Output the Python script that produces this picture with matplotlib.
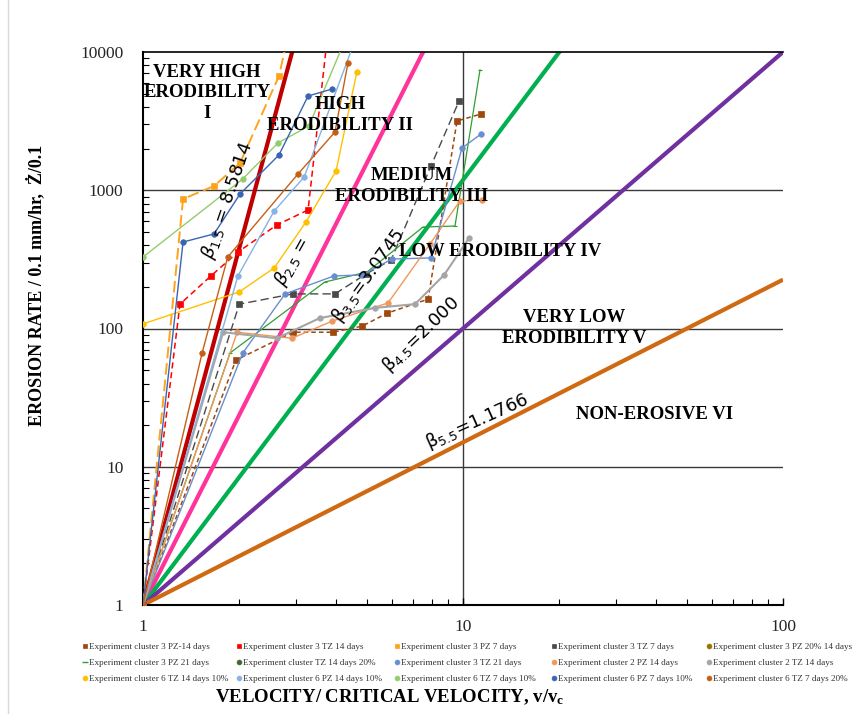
import matplotlib
matplotlib.use("Agg")
import matplotlib.pyplot as plt
import numpy as np
from matplotlib.lines import Line2D
from matplotlib.ticker import FixedLocator, NullFormatter, FixedFormatter

plt.rcParams['mathtext.fontset'] = 'custom'
plt.rcParams['mathtext.rm'] = 'Liberation Serif'
plt.rcParams['mathtext.it'] = 'Liberation Serif:italic'
plt.rcParams['mathtext.bf'] = 'Liberation Serif:bold'

# ---------------- erodibility boundary exponents (E = v^beta) ----------------
beta_values = [8.5814, 4.57, 3.0745, 2.000, 1.1766]
beta_colors = ['#C00000', '#FF3399', '#00B050', '#7030A0', '#D06A12']
beta_labels = [r'$\beta_{1.5}$ = 8.5814', r'$\beta_{2.5}$ =', r'β$_{3.5}$=3.0745',
               r'β$_{4.5}$=2.000', r'β$_{5.5}$=1.1766']

# ---------------- experiment series: v/vc and erosion rate ----------------
c3_pz14_v = [1, 1.95, 2.94, 3.92, 4.84, 5.79, 7.78, 9.58, 11.38]
c3_pz14_e = [1, 59, 94, 94, 104, 129, 163, 3170, 3560]

c3_tz14_v = [1, 1.305, 1.63, 1.98, 2.62, 3.28, 3.79]
c3_tz14_e = [1, 150, 240, 357, 561, 720, 14400]

c3_pz7_v = [1, 1.334, 1.667, 2.01, 2.66, 2.82]
c3_pz7_e = [1, 865, 1073, 1574, 6700, 12200]

c3_tz7_v = [1, 2.0, 2.94, 3.98, 4.98, 5.96, 7.94, 9.72]
c3_tz7_e = [1, 150, 178, 178, 248, 313, 1497, 4420]

c3_pz20_14_v = [1]
c3_pz20_14_e = [1]

c3_pz21_v = [1, 1.87, 3.7, 5.01, 7.5, 9.44, 11.3]
c3_pz21_e = [1, 66.5, 217, 256, 542, 551, 7410]

c_tz14_20_v = [1]
c_tz14_20_e = [1]

c3_tz21_v = [1, 2.05, 2.78, 3.95, 4.84, 6.0, 7.94, 9.93, 11.38]
c3_tz21_e = [1, 66.5, 178, 240, 244, 318, 324, 2020, 2550]

c2_pz14_v = [1, 1.97, 2.92, 3.90, 5.83, 7.88, 9.78, 11.47]
c2_pz14_e = [1, 94, 85, 113, 153, 408, 836, 850]

c2_tz14_v = [1, 1.78, 2.62, 3.57, 5.31, 7.08, 8.73, 10.44]
c2_tz14_e = [1, 94, 85, 119, 141, 150, 244, 451]

c6_tz14_10_v = [1, 2.0, 2.57, 3.23, 4.01, 4.66]
c6_tz14_10_e = [108, 184, 274, 589, 1377, 7170]

c6_pz14_10_v = [1, 1.98, 2.57, 3.19, 4.6]
c6_pz14_10_e = [1, 240, 708, 1247, 12200]

c6_tz7_10_v = [1, 2.05, 2.64, 3.30, 4.28]
c6_tz7_10_e = [329, 1206, 2198, 2917, 12200]

c6_pz7_10_v = [1, 1.334, 1.667, 2.01, 2.66, 3.28, 3.9]
c6_pz7_10_e = [1, 422, 483, 939, 1799, 4806, 5400]

c6_tz7_20_v = [1, 1.53, 1.84, 3.05, 3.98, 4.37]
c6_tz7_20_e = [1, 66.5, 329, 1311, 2637, 8320]

series = [
    ("Experiment cluster 3 PZ-14 days", c3_pz14_v, c3_pz14_e,
     dict(color='#9E480E', marker='s', ms=4.5, lw=1.1, ls=(0, (3, 2)))),
    ("Experiment cluster 3 TZ 14 days", c3_tz14_v, c3_tz14_e,
     dict(color='#FF0000', marker='s', ms=4.5, lw=1.1, ls=(0, (4, 2.5)))),
    ("Experiment cluster 3 PZ 7 days", c3_pz7_v, c3_pz7_e,
     dict(color='#FFA31A', marker='s', ms=4.5, lw=1.4, ls=(0, (6, 2.5)))),
    ("Experiment cluster 3 TZ 7 days", c3_tz7_v, c3_tz7_e,
     dict(color='#4A4A4A', marker='s', ms=4, lw=1.0, ls=(0, (6, 3)))),
    ("Experiment cluster 3 PZ 20% 14 days", c3_pz20_14_v, c3_pz20_14_e,
     dict(color='#997300', marker='o', ms=3.5, lw=1.0, ls='-')),
    ("Experiment cluster 3 PZ 21 days", c3_pz21_v, c3_pz21_e,
     dict(color='#2EA030', marker='_', ms=3, lw=0.9, ls='-')),
    ("Experiment cluster TZ 14 days 20%", c_tz14_20_v, c_tz14_20_e,
     dict(color='#43682B', marker='o', ms=3.5, lw=1.0, ls='-')),
    ("Experiment cluster 3 TZ 21 days", c3_tz21_v, c3_tz21_e,
     dict(color='#698ED0', marker='o', ms=4, lw=1.0, ls='-')),
    ("Experiment cluster 2 PZ 14 days", c2_pz14_v, c2_pz14_e,
     dict(color='#F1975A', marker='o', ms=4, lw=1.0, ls='-')),
    ("Experiment cluster 2 TZ 14 days", c2_tz14_v, c2_tz14_e,
     dict(color='#A5A5A5', marker='o', ms=4, lw=1.5, ls='-')),
    ("Experiment cluster 6 TZ 14 days 10%", c6_tz14_10_v, c6_tz14_10_e,
     dict(color='#FFC000', marker='o', ms=4, lw=1.0, ls='-')),
    ("Experiment cluster 6 PZ 14 days 10%", c6_pz14_10_v, c6_pz14_10_e,
     dict(color='#84B3E4', marker='o', ms=4, lw=1.0, ls='-')),
    ("Experiment cluster 6 TZ 7 days 10%", c6_tz7_10_v, c6_tz7_10_e,
     dict(color='#92CC6E', marker='o', ms=4, lw=1.0, ls='-')),
    ("Experiment cluster 6 PZ 7 days 10%", c6_pz7_10_v, c6_pz7_10_e,
     dict(color='#3A64B4', marker='o', ms=4, lw=1.0, ls='-')),
    ("Experiment cluster 6 TZ 7 days 20%", c6_tz7_20_v, c6_tz7_20_e,
     dict(color='#C65F15', marker='o', ms=4, lw=1.0, ls='-')),
]

x_ticks = [1, 10, 100]
x_ticklabels = ['1', '10', '100']
y_ticks = [1, 10, 100, 1000, 10000]
y_ticklabels = ['1', '10', '100', '1000', '10000']

W, H = 868, 714
fig = plt.figure(figsize=(W / 100, H / 100), dpi=100)
ax = fig.add_axes([143 / W, 1 - 605 / H, 640 / W, 553 / H])
ax.set_xscale('log')
ax.set_yscale('log')
ax.set_xlim(1, 100)
ax.set_ylim(1, 10000)

# grid lines at the major decades
for yv in [10, 100, 1000]:
    ax.axhline(yv, color='#3A3A3A', lw=1.0, zorder=1)
ax.axvline(10, color='#3A3A3A', lw=1.0, zorder=1)

# boundary lines
v_line = np.array([1.0, 100.0])
for b, c in zip(beta_values, beta_colors):
    ax.plot(v_line, v_line ** b, color=c, lw=3.0, zorder=2.5, solid_capstyle='butt')

# experiment series
for name, v, e, st in series:
    ax.plot(v, e, color=st['color'], marker=st['marker'], ms=st['ms'],
            lw=st['lw'], ls=st['ls'], zorder=3, markeredgewidth=0.8 if st['marker'] == '_' else 0.5)

# spines & ticks
for s in ['left', 'bottom']:
    ax.spines[s].set_linewidth(1.5)
ax.spines['top'].set_linewidth(1.2)
ax.spines['right'].set_visible(False)

ax.xaxis.set_major_locator(FixedLocator(x_ticks))
ax.xaxis.set_major_formatter(FixedFormatter(x_ticklabels))
ax.yaxis.set_major_locator(FixedLocator(y_ticks))
ax.yaxis.set_major_formatter(FixedFormatter(y_ticklabels))
ax.xaxis.set_minor_locator(FixedLocator([m * d for d in (1, 10) for m in range(2, 10)]))
ax.yaxis.set_minor_locator(FixedLocator([m * d for d in (1, 10, 100, 1000) for m in range(2, 10)]))
ax.xaxis.set_minor_formatter(NullFormatter())
ax.yaxis.set_minor_formatter(NullFormatter())
ax.tick_params(which='both', direction='in', top=False, right=False, color='black')
ax.tick_params(which='major', length=5, width=1.0)
ax.tick_params(which='minor', length=4, width=0.8)
ax.tick_params(axis='x', which='major', pad=10)
ax.tick_params(axis='y', which='major', pad=14, length=0)
for lab in ax.get_xticklabels() + ax.get_yticklabels():
    lab.set_fontfamily('Liberation Serif')
    lab.set_fontsize(12.5)
    lab.set_color('#262626')

# boundary labels
beta_pos = [(0.1328, 0.7324, 71), (0.2328, 0.6203, 61), (0.353, 0.595, 54),
            (0.4344, 0.4899, 44), (0.5219, 0.3327, 24)]
for (fx, fy, rot), txt in zip(beta_pos, beta_labels):
    ax.text(fx, fy, txt, transform=ax.transAxes, rotation=rot, rotation_mode='anchor',
            ha='center', va='center', fontsize=13, fontfamily='DejaVu Sans',
            math_fontfamily='dejavusans', color='black', zorder=6)

# erodibility region labels
regions = [
    ("VERY HIGH\nERODIBILITY\nI", 0.10, 0.926),
    ("HIGH\nERODIBILITY II", 0.308, 0.886),
    ("MEDIUM\nERODIBILITY III", 0.42, 0.758),
    ("LOW ERODIBILITY IV", 0.558, 0.640),
    ("VERY LOW\nERODIBILITY V", 0.673, 0.501),
    ("NON-EROSIVE VI", 0.80, 0.344),
]
for txt, fx, fy in regions:
    ax.text(fx, fy, txt, transform=ax.transAxes, ha='center', va='center',
            multialignment='center', fontsize=13.5, fontfamily='Liberation Serif',
            fontweight='bold', color='black', linespacing=1.3, zorder=6)

# axis titles
fig.text(390 / W, 1 - 697 / H, r'VELOCITY/ CRITICAL VELOCITY, v/v$_{\mathbf{c}}$',
         ha='center', va='center', fontsize=13.5, fontfamily='Liberation Serif',
         fontweight='bold')
fig.text(36 / W, 1 - 285 / H, 'EROSION RATE / 0.1 mm/hr,  Ż/0.1',
         ha='center', va='center', rotation=90, fontsize=13, fontfamily='Liberation Serif',
         fontweight='bold')

# legend: five columns of three entries
col_x = [83, 237, 395, 552, 707]
for c in range(5):
    hs, ls_ = [], []
    for r in range(3):
        name, v, e, st = series[r * 5 + c]
        hs.append(Line2D([], [], ls='none', color=st['color'], marker=st['marker'],
                         ms=3.5 if st['marker'] != '_' else 4, markeredgewidth=1.0 if st['marker'] == '_' else 0.5))
        ls_.append(name)
    fig.legend(hs, ls_, loc='upper left', bbox_to_anchor=(col_x[c] / W, 1 - 643 / H),
               frameon=False, prop={'family': 'Liberation Serif', 'size': 6.6},
               handlelength=0.5, handletextpad=0.15, borderaxespad=0, borderpad=0,
               labelspacing=0.8, labelcolor='#333333')

# light chart-area border on the left
fig.add_artist(Line2D([7.5 / W, 7.5 / W], [0, 1], transform=fig.transFigure,
                      color='#D9D9D9', lw=1.0))

fig.savefig('out.png', dpi=100)
